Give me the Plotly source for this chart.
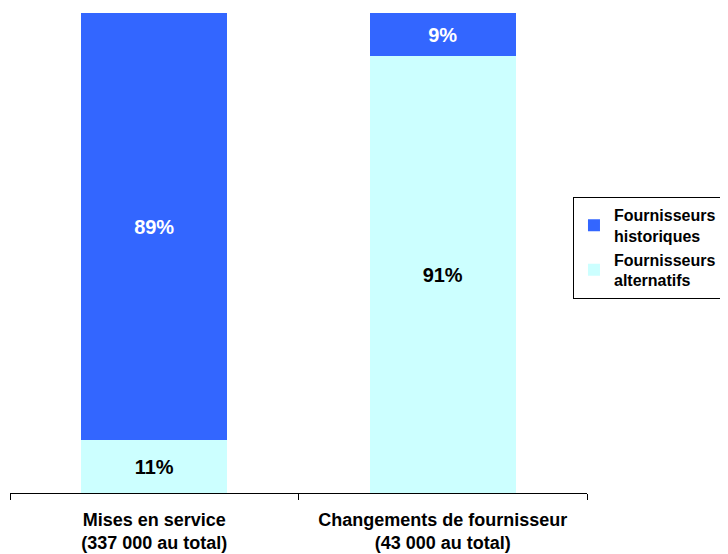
import plotly.graph_objects as go

categories = ["Mises en service<br>(337 000 au total)", "Changements de fournisseur<br>(43 000 au total)"]
alternatifs = [11, 91]
historiques = [89, 9]

font_family = "Arial, Liberation Sans, sans-serif"

fig = go.Figure()
fig.add_trace(go.Bar(
    x=categories, y=alternatifs, name="Fournisseurs<br>alternatifs",
    marker=dict(color="#CCFFFF", line=dict(width=0)),
    text=[f"{v}%" for v in alternatifs], textposition="inside",
    insidetextanchor="middle",
    textfont=dict(family=font_family, size=20, color="black", weight="bold"),
))
fig.add_trace(go.Bar(
    x=categories, y=historiques, name="Fournisseurs<br>historiques",
    marker=dict(color="#3366FF", line=dict(width=0)),
    text=[f"{v}%" for v in historiques], textposition="inside",
    insidetextanchor="middle",
    textfont=dict(family=font_family, size=20, color="white", weight="bold"),
))

fig.update_layout(
    width=720, height=546,
    margin=dict(l=2, r=141, t=5, b=61),
    barmode="stack", bargap=0.494,
    plot_bgcolor="white", paper_bgcolor="white",
    font=dict(family=font_family, color="black"),
    uniformtext=dict(minsize=10, mode="show"),
    legend=dict(
        x=0.9757, y=0.617, xanchor="left", yanchor="top",
        traceorder="reversed",
        bordercolor="black", borderwidth=1, bgcolor="white",
        font=dict(family=font_family, size=16, color="black", weight="bold"),
        itemwidth=30, tracegroupgap=0,
    ),
    xaxis=dict(
        showline=True, linecolor="black", linewidth=1,
        ticks="outside", tickson="boundaries", ticklen=6, tickcolor="black",
        ticklabelstandoff=10,
        tickfont=dict(family=font_family, size=18, color="black", weight="bold"),
        showgrid=False,
    ),
    yaxis=dict(range=[0, 100], visible=False, showgrid=False),
)

fig.write_html("out.html")
